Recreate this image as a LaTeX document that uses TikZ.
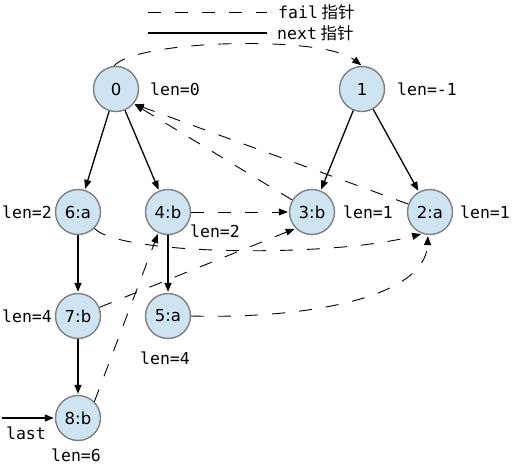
\documentclass[tikz,border=0pt]{standalone}
\usepackage{fontspec}
\setsansfont{DejaVu Sans}
\setmonofont{DejaVu Sans Mono}
\newfontfamily\cjkfont{Noto Sans CJK SC}
\usepackage{tikz}
\usetikzlibrary{automata, positioning, arrows.meta}
\usepackage{xcolor}
\definecolor{nodefill}{RGB}{207,228,242}
\definecolor{nodeline}{RGB}{128,128,128}

\begin{document}
\begin{tikzpicture}[on grid, shorten >=1pt, >={Triangle[length=9pt,width=7pt]},
    every state/.style={draw=nodeline, fill=nodefill, line width=1.4pt, minimum size=45pt, inner sep=0pt, font=\sffamily\fontsize{16.5}{20}\selectfont},
    lenlab/.style={inner sep=0pt, font=\ttfamily\fontsize{16.5}{20}\selectfont},
    nextptr/.style={->, line width=1.3pt},
    failptr/.style={->, line width=0.9pt, dash pattern=on 13pt off 14pt}]
    \useasboundingbox (0,0) rectangle (514pt,-468pt);

    \node[state] (p0) at (116pt,-89pt) {0};
    \node[state] (p1) [right=246pt of p0] {1};
    \node[state] (p6) [below left=123pt and 38pt of p0] {6:a};
    \node[state] (p4) [right=90pt of p6] {4:b};
    \node[state] (p3) [below left=123pt and 50pt of p1] {3:b};
    \node[state] (p2) [right=118pt of p3] {2:a};
    \node[state] (p7) [below=104pt of p6] {7:b};
    \node[state] (p5) [below=104pt of p4] {5:a};
    \node[state] (p8) [below=102pt of p7] {8:b};

    \node[lenlab] (l0) [right=59pt of p0] {len=0};
    \node[lenlab] (l1) [right=65pt of p1] {len=-1};
    \node[lenlab] (l6) [left=51pt of p6] {len=2};
    \node[lenlab] (l4) [below right=19pt and 47pt of p4] {len=2};
    \node[lenlab] (l3) [right=56pt of p3] {len=1};
    \node[lenlab] (l2) [right=55pt of p2] {len=1};
    \node[lenlab] (l7) [left=51pt of p7] {len=4};
    \node[lenlab] (l5) [below left=42pt and 3pt of p5] {len=4};
    \node[lenlab] (l8) [below left=37pt and 2pt of p8] {len=6};

    \node[coordinate] (lastin) [left=76pt of p8] {};
    \node[lenlab] (lastlab) [below left=15pt and 52pt of p8] {last};

    % legend
    \node[coordinate] (fail0) [above right=77pt and 32pt of p0] {};
    \node[coordinate] (fail1) [right=120pt of fail0] {};
    \node[coordinate] (next0) [below=21pt of fail0] {};
    \node[coordinate] (next1) [right=120pt of next0] {};
    \node[lenlab] (failtxt) [right=10pt of fail1, anchor=west] {fail{\cjkfont\ 指针}};
    \node[lenlab] (nexttxt) [right=9pt of next1, anchor=west] {next{\cjkfont\ 指针}};
    \draw[line width=0.9pt, dash pattern=on 13pt off 14pt] (fail0) -- (fail1);
    \draw[line width=1.6pt] (next0) -- (next1);

    \path[nextptr]
    (p0) edge (p6)
    (p0) edge (p4)
    (p1) edge (p3)
    (p1) edge (p2)
    (p6) edge (p7)
    (p4) edge (p5)
    (p7) edge (p8)
    (lastin) edge (p8);

    \path[failptr]
    (p4) edge (p3)
    (p3) edge (p0.-40)
    (p2) edge (p0.-40)
    (p7) edge (p3.-135)
    (p8.45) edge (p4.-115);
    \draw[failptr] (p0.95) .. controls +(22pt,26pt) and +(-40pt,31pt) .. (p1.north);
    \draw[failptr] (p6.-45) .. controls +(25pt,-27pt) and +(-92pt,-24pt) .. (p2.-110);
    \draw[failptr] (p5.east) .. controls +(110pt,-3pt) and +(-3pt,-64pt) .. (p2.-95);
\end{tikzpicture}
\end{document}
